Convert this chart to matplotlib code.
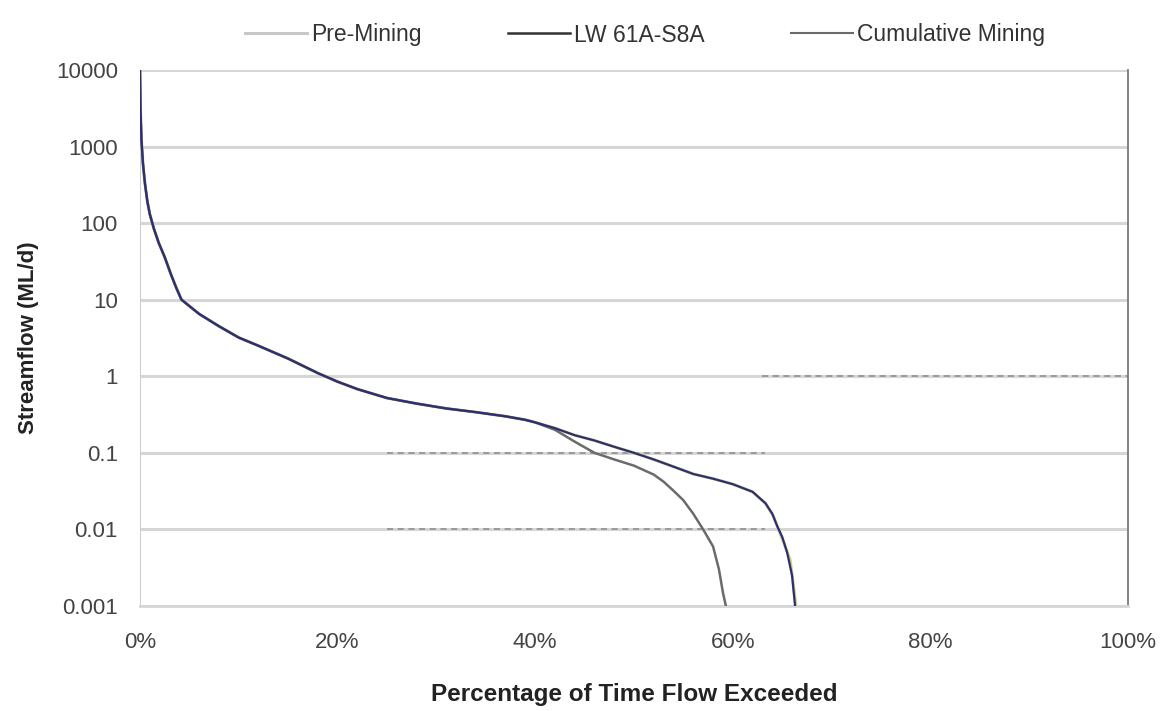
import matplotlib
matplotlib.use("Agg")
import matplotlib.pyplot as plt
from matplotlib.lines import Line2D

plt.rcParams['font.family'] = ['Liberation Sans', 'DejaVu Sans']

# ---- data (percentage of time exceeded, streamflow ML/d) ----
shared_x = [0, 0.05, 0.15, 0.3, 0.5, 0.75, 1.0, 1.4, 1.9, 2.5, 3.1, 3.7, 4.2, 6, 8, 10, 12, 15, 18, 20, 22, 25, 28, 31, 34, 37, 39]
shared_y = [10000, 3000, 1200, 600, 330, 190, 130, 85, 55, 36, 22, 14, 10, 6.5, 4.5, 3.2, 2.5, 1.7, 1.1, 0.85, 0.68, 0.52, 0.44, 0.38, 0.34, 0.30, 0.27]

upper_x = [40, 42, 44, 46, 48, 50, 52, 54, 56, 58, 60, 62, 63.3, 64, 64.5, 65, 65.5, 66, 66.3]
upper_y = [0.25, 0.21, 0.17, 0.145, 0.12, 0.10, 0.082, 0.066, 0.053, 0.046, 0.039, 0.031, 0.022, 0.016, 0.011, 0.008, 0.005, 0.0025, 0.001]

pre_x_tail = [40, 42, 44, 46, 48, 50, 52, 54, 56, 58, 60, 62, 63.3, 64.1, 64.7, 65.2, 65.8, 66.1, 66.4]
pre_y_tail = [0.25, 0.21, 0.17, 0.145, 0.12, 0.10, 0.082, 0.066, 0.053, 0.046, 0.039, 0.031, 0.022, 0.015, 0.0095, 0.0065, 0.004, 0.002, 0.001]

lower_x = [40, 42, 44, 46, 48, 50, 52, 53, 54, 55, 56, 57, 58, 58.6, 59, 59.3]
lower_y = [0.25, 0.2, 0.14, 0.10, 0.082, 0.068, 0.052, 0.042, 0.032, 0.024, 0.016, 0.010, 0.006, 0.003, 0.0015, 0.001]

pre_x = shared_x + pre_x_tail
pre_y = shared_y + pre_y_tail
lw_x = shared_x + upper_x
lw_y = shared_y + upper_y
cum_x = shared_x + lower_x
cum_y = shared_y + lower_y

series_names = ["Pre-Mining", "LW 61A-S8A", "Cumulative Mining"]

# threshold reference lines
thr_low_x = [25, 63.3]
thr_low_levels = [0.1, 0.01]
thr_high_x = [63, 100]
thr_high_level = 1

yticks = [0.001, 0.01, 0.1, 1, 10, 100, 1000, 10000]
ytick_labels = ["0.001", "0.01", "0.1", "1", "10", "100", "1000", "10000"]
xticks = [0, 20, 40, 60, 80, 100]
xtick_labels = ["0%", "20%", "40%", "60%", "80%", "100%"]

# ---- figure ----
fig = plt.figure(figsize=(11.72, 7.11), dpi=100)
ax = fig.add_axes([140/1172, 1 - 606/711, (1128-140)/1172, (606-70)/711])

ax.set_yscale('log')
ax.set_xlim(0, 100)
ax.set_ylim(0.001, 10000)

for yv in yticks:
    ax.axhline(yv, color='#d6d6d6', lw=2.2, zorder=0)

for lvl in thr_low_levels:
    ax.plot(thr_low_x, [lvl, lvl], color='#8a8a8a', lw=1.1, ls=(0, (4, 3)), zorder=1)
ax.plot(thr_high_x, [thr_high_level]*2, color='#8a8a8a', lw=1.1, ls=(0, (4, 3)), zorder=1)

c_pre = '#c9d27a'
c_lw = '#2e2e78'
c_cum = '#6b6b6b'
ax.plot(pre_x, pre_y, color=c_pre, lw=2.2, zorder=2)
ax.plot(cum_x, cum_y, color=c_cum, lw=1.8, zorder=3)
ax.plot(lw_x, lw_y, color=c_lw, lw=1.6, zorder=4)

ax.set_xticks(xticks)
ax.set_xticklabels(xtick_labels)
ax.set_yticks(yticks)
ax.set_yticklabels(ytick_labels)
ax.minorticks_off()
ax.tick_params(axis='both', length=0, labelsize=16, colors='#444444')
ax.tick_params(axis='x', pad=19)
ax.tick_params(axis='y', pad=16)

ax.spines['top'].set_visible(False)
ax.spines['left'].set_color('#cfcfcf')
ax.spines['bottom'].set_color('#d6d6d6')
ax.spines['bottom'].set_linewidth(2)
ax.spines['right'].set_color('#7a7a7a')
ax.spines['right'].set_linewidth(1.3)

ax.set_xlabel("Percentage of Time Flow Exceeded", fontsize=17.5, fontweight='bold', color='#222222', labelpad=21)
ax.set_ylabel("Streamflow (ML/d)", fontsize=16, fontweight='bold', color='#222222', labelpad=12)

handles = [Line2D([], [], color='#c8c8c8', lw=2.2),
           Line2D([], [], color='#333333', lw=1.8),
           Line2D([], [], color='#6b6b6b', lw=1.5)]
leg = fig.legend(handles, series_names, loc='center', bbox_to_anchor=(645/1172, 1 - 35/711),
                 ncol=3, frameon=False, fontsize=16.5, handlelength=2.7, handletextpad=0.15,
                 columnspacing=3.8, labelcolor='#333333')

fig.savefig("out.png", dpi=100)
